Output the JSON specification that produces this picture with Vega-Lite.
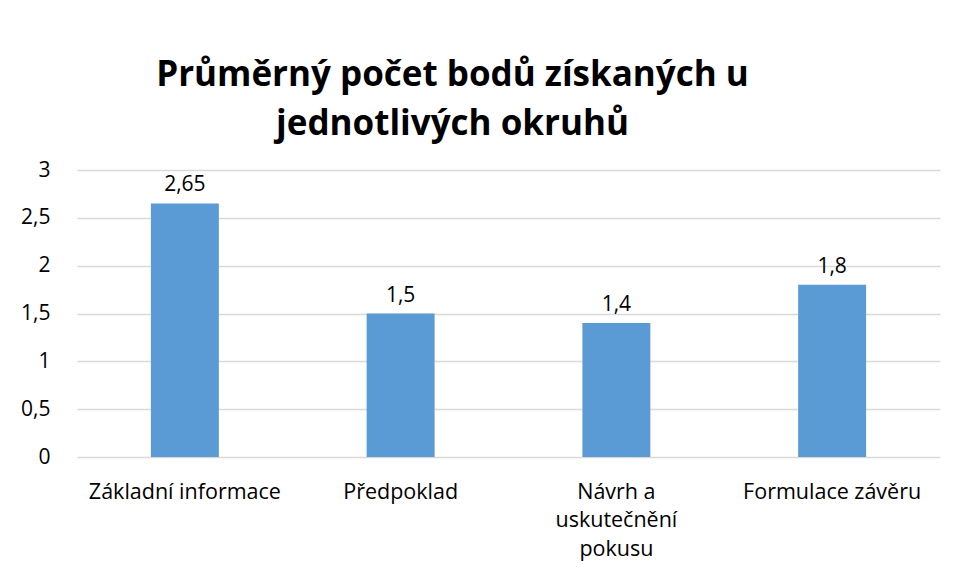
{
  "$schema": "https://vega.github.io/schema/vega-lite/v6.json",
  "width": 863,
  "height": 287,
  "autosize": "none",
  "padding": {"left": 77, "top": 170, "right": 15, "bottom": 124},
  "background": "white",
  "config": {
    "locale": {"number": {"decimal": ",", "thousands": " ", "grouping": [3], "currency": ["", " Kč"]}},
    "view": {"stroke": null},
    "font": "Open Sans"
  },
  "title": {
    "text": ["Průměrný počet bodů získaných u", "jednotlivých okruhů"],
    "font": "Open Sans",
    "fontSize": 35,
    "fontWeight": "bold",
    "color": "#000000",
    "anchor": "middle",
    "dx": -56,
    "offset": 17,
    "lineHeight": 49
  },
  "data": {
    "values": [
      {"okruh": "Základní informace", "body": 2.65},
      {"okruh": "Předpoklad", "body": 1.5},
      {"okruh": "Návrh a uskutečnění pokusu", "body": 1.4},
      {"okruh": "Formulace závěru", "body": 1.8}
    ]
  },
  "encoding": {
    "x": {
      "field": "okruh",
      "type": "nominal",
      "sort": null,
      "scale": {"paddingInner": 0.685, "paddingOuter": 0.3425},
      "axis": {
        "title": null,
        "labelAngle": 0,
        "labelFontSize": 21.5,
        "labelColor": "#000000",
        "labelPadding": 35,
        "labelLineHeight": 28.5,
        "labelBaseline": "middle",
        "labelLimit": 300,
        "ticks": false,
        "domain": false,
        "labelExpr": "datum.label == 'Návrh a uskutečnění pokusu' ? ['Návrh a', 'uskutečnění', 'pokusu'] : datum.label"
      }
    },
    "y": {
      "field": "body",
      "type": "quantitative",
      "scale": {"domain": [0, 3]},
      "axis": {
        "title": null,
        "values": [0, 0.5, 1, 1.5, 2, 2.5, 3],
        "format": "~g",
        "labelFontSize": 21,
        "labelColor": "#000000",
        "labelPadding": 27,
        "ticks": false,
        "domain": false,
        "gridColor": "#D9D9D9",
        "gridWidth": 1.5
      }
    }
  },
  "layer": [
    {"mark": {"type": "bar", "color": "#5B9BD5"}},
    {
      "mark": {"type": "text", "baseline": "bottom", "dy": -8, "fontSize": 21, "color": "#000000"},
      "encoding": {"text": {"field": "body", "type": "quantitative", "format": "~g"}}
    }
  ]
}
